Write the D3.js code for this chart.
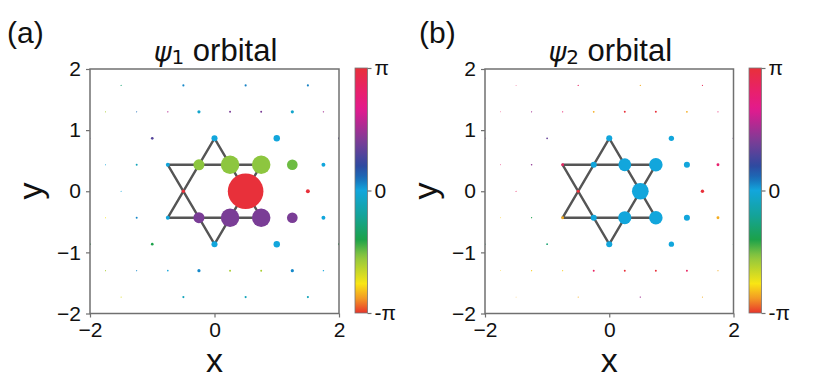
<!DOCTYPE html>
<html>
<head>
<meta charset="utf-8">
<script src="https://cdn.jsdelivr.net/npm/d3@7"></script>
<style>
  body { margin: 0; background: #fff; }
  text { font-family: "Liberation Sans", Arial, sans-serif; fill: #111; }
</style>
</head>
<body>
<svg></svg>
<script>
// kagome sites, row by row from top to bottom
let siteX = [
  -1.5, -0.5, 0.5, 1.5,
  -1.75, -1.25, -0.75, -0.25, 0.25, 0.75, 1.25, 1.75,
  -2, -1, 0, 1, 2,
  -1.75, -1.25, -0.75, -0.25, 0.25, 0.75, 1.25, 1.75,
  -1.5, -0.5, 0.5, 1.5,
  -1.75, -1.25, -0.75, -0.25, 0.25, 0.75, 1.25, 1.75,
  -2, -1, 0, 1, 2,
  -1.75, -1.25, -0.75, -0.25, 0.25, 0.75, 1.25, 1.75,
  -1.5, -0.5, 0.5, 1.5
]
let siteY = [
  1.732, 1.732, 1.732, 1.732,
  1.299, 1.299, 1.299, 1.299, 1.299, 1.299, 1.299, 1.299,
  0.866, 0.866, 0.866, 0.866, 0.866,
  0.433, 0.433, 0.433, 0.433, 0.433, 0.433, 0.433, 0.433,
  0, 0, 0, 0,
  -0.433, -0.433, -0.433, -0.433, -0.433, -0.433, -0.433, -0.433,
  -0.866, -0.866, -0.866, -0.866, -0.866,
  -1.299, -1.299, -1.299, -1.299, -1.299, -1.299, -1.299, -1.299,
  -1.732, -1.732, -1.732, -1.732
]

// |psi| (normalised) and phase (in units of pi) for each site
let amp1 = [
  0.03, 0.06, 0.06, 0.06,
  0.03, 0.03, 0.04, 0.09, 0.055, 0.055, 0.09, 0.04,
  0.03, 0.075, 0.17, 0.18, 0.06,
  0.03, 0.055, 0.11, 0.31, 0.52, 0.52, 0.30, 0.11,
  0.03, 0.095, 1.0, 0.11,
  0.03, 0.055, 0.11, 0.31, 0.52, 0.52, 0.30, 0.11,
  0.05, 0.075, 0.17, 0.18, 0.06,
  0.03, 0.03, 0.045, 0.09, 0.055, 0.055, 0.09, 0.04,
  0.03, 0.06, 0.06, 0.06
]
let phase1 = [
  -0.3, 0.05, 0.06, 0.06,
  -0.6, 0.1, 0.55, -0.05, 0.4, 0.4, -0.05, 0.5,
  0.3, 0.3, 0, 0, 0.3,
  0, -0.1, 0, -0.54, -0.54, -0.54, -0.5, 0,
  0, 1, 1, 1,
  -0.75, 0.05, 0, 0.4, 0.4, 0.4, 0.4, 0,
  -0.4, -0.4, 0, 0, -0.4,
  -0.6, 0.05, 0, 0.05, -0.6, -0.6, 0.05, 0,
  -0.7, -0.1, -0.1, -0.1
]
let amp2 = [
  0.025, 0.035, 0.035, 0.03,
  0.025, 0.035, 0.035, 0.05, 0.055, 0.055, 0.05, 0.03,
  0.04, 0.05, 0.17, 0.15, 0.05,
  0.025, 0.045, 0.08, 0.17, 0.36, 0.38, 0.17, 0.08,
  0.03, 0.085, 0.47, 0.095,
  0.025, 0.035, 0.08, 0.17, 0.37, 0.38, 0.17, 0.08,
  0.04, 0.05, 0.17, 0.15, 0.04,
  0.025, 0.035, 0.03, 0.055, 0.055, 0.055, 0.055, 0.03,
  0.025, 0.03, 0.04, 0.03
]
let phase2 = [
  0.85, 0.85, -0.85, 0.9,
  0.85, 0.5, 0.8, -0.85, 1, 1, -0.85, 0.8,
  0.4, 0.35, 0, 0, 0.35,
  0.8, 0.45, 0.85, 0, 0, 0, 0, 0.8,
  0.85, 1, 0, 1,
  -0.8, -0.4, -0.85, 0, 0, 0, 0, -0.85,
  -0.3, -0.3, 0, 0, -0.3,
  -0.8, -0.8, -0.8, 0.85, 1, 1, 0.85, -0.85,
  -0.85, -0.85, 0.5, -0.85
]

// the star of david: two triangles
let triUp = [[0, 0.866], [-0.75, -0.433], [0.75, -0.433]]
let triDown = [[0, -0.866], [-0.75, 0.433], [0.75, 0.433]]

let xTicks = [-2, 0, 2]
let yTicks = [-2, -1, 0, 1, 2]
let cbTicks = [-1, 0, 1]
let cbLabels = ["-π", "0", "π"]

// phase colormap stops (phase / pi)
let cmapStops = [-1, -0.88, -0.76, -0.54, -0.4, -0.2, 0, 0.1, 0.2, 0.4, 0.66, 0.8, 1]
let cmapColors = ["#e8342c", "#f39a24", "#f9e614", "#8dc63f", "#1ca24a", "#14a39a", "#12a6dc",
                  "#1a6cb8", "#2e4aa0", "#7a3d96", "#e21a8e", "#e8206e", "#e8303a"]

let width = 830
let height = 391

let svg = d3.select("svg").attr("width", width).attr("height", height)

let color = d3.scaleLinear().domain(cmapStops).range(cmapColors).interpolate(d3.interpolateRgb)
let rScale = d3.scaleLinear().domain([0, 1]).range([0, 17.8])

// gradient for the colorbars
let grad = svg.append("defs").append("linearGradient")
    .attr("id", "cmap").attr("x1", 0).attr("y1", 1).attr("x2", 0).attr("y2", 0)
d3.range(0, 1.001, 0.02).forEach(t => {
    grad.append("stop").attr("offset", t).attr("stop-color", color(-1 + 2 * t))
})

let axisColor = "#707070"

let drawPanel = (opts) => {
    let xScale = d3.scaleLinear().domain([-2, 2]).range([opts.left, opts.right])
    let yScale = d3.scaleLinear().domain([-2, 2]).range([313.5, 69])
    let g = svg.append("g")

    g.append("clipPath").attr("id", "clip" + opts.id)
        .append("rect")
        .attr("x", opts.left).attr("y", 69)
        .attr("width", opts.right - opts.left).attr("height", 313.5 - 69)

    let plot = g.append("g").attr("clip-path", "url(#clip" + opts.id + ")")

    // star lines under the dots
    let line = d3.line().x(d => xScale(d[0])).y(d => yScale(d[1])).curve(d3.curveLinearClosed)
    ;[triUp, triDown].forEach(tri => {
        plot.append("path").attr("d", line(tri))
            .attr("fill", "none").attr("stroke", "#555").attr("stroke-width", 2.4)
            .attr("stroke-linejoin", "round")
    })

    plot.selectAll("circle")
        .data(siteX.map((x, i) => i))
        .enter()
        .append("circle")
        .attr("cx", i => xScale(siteX[i]))
        .attr("cy", i => yScale(siteY[i]))
        .attr("r", i => rScale(opts.amp[i]))
        .attr("fill", i => color(opts.phase[i]))

    // axes
    let xAxis = d3.axisBottom(xScale).tickValues(xTicks).tickSize(4).tickPadding(5)
        .tickFormat(d => d < 0 ? "\u2212" + Math.abs(d) : d)
    let yAxis = d3.axisLeft(yScale).tickValues(yTicks).tickSize(4).tickPadding(5)
        .tickFormat(d => d < 0 ? "\u2212" + Math.abs(d) : d)

    let gx = g.append("g").attr("transform", "translate(0," + 313.5 + ")").call(xAxis)
    let gy = g.append("g").attr("transform", "translate(" + opts.left + ",0)").call(yAxis)
    ;[gx, gy].forEach(a => {
        a.select(".domain").remove()
        a.selectAll("line").attr("stroke", axisColor).attr("stroke-width", 1.2)
        a.selectAll("text").attr("font-size", 21).attr("fill", "#111")
            .attr("font-family", "Liberation Sans, Arial, sans-serif")
    })

    g.append("rect")
        .attr("x", opts.left).attr("y", 69)
        .attr("width", opts.right - opts.left).attr("height", 313.5 - 69)
        .attr("fill", "none").attr("stroke", axisColor).attr("stroke-width", 1.5)

    // labels
    g.append("text").attr("x", (opts.left + opts.right) / 2).attr("y", 372)
        .attr("text-anchor", "middle").attr("font-size", 34).text("x")
    g.append("text")
        .attr("transform", "translate(" + (opts.left - 48) + "," + 191 + ") rotate(-90)")
        .attr("text-anchor", "middle").attr("font-size", 34).text("y")

    let title = g.append("text").attr("x", (opts.left + opts.right) / 2 + 1).attr("y", 61)
        .attr("text-anchor", "middle").attr("font-size", 31)
    title.append("tspan").attr("font-family", "DejaVu Sans").attr("font-style", "italic")
        .attr("font-size", 27).text("ψ")
    title.append("tspan").attr("font-family", "DejaVu Sans").attr("font-size", 20).attr("dy", 3).text(opts.sub)
    title.append("tspan").attr("dy", -3).text(" orbital")

    g.append("text").attr("x", opts.tagX).attr("y", 43).attr("font-size", 30).text(opts.tag)

    // colorbar
    let cbScale = d3.scaleLinear().domain([-1, 1]).range([313, 68])
    g.append("rect")
        .attr("x", opts.cbX).attr("y", 68).attr("width", 12.5).attr("height", 245)
        .attr("fill", "url(#cmap)").attr("stroke", "#777").attr("stroke-width", 0.8)
    let cbAxis = d3.axisRight(cbScale).tickValues(cbTicks).tickSize(4).tickPadding(3)
        .tickFormat((d, i) => cbLabels[i])
    let gc = g.append("g").attr("transform", "translate(" + (opts.cbX + 12.5) + ",0)").call(cbAxis)
    gc.select(".domain").remove()
    gc.selectAll("line").attr("stroke", axisColor).attr("stroke-width", 1.2)
    gc.selectAll("text").attr("font-size", 21).attr("fill", "#111")
        .attr("font-family", "Liberation Sans, Arial, sans-serif")
}

drawPanel({ id: "a", left: 90, right: 339, cbX: 355, amp: amp1, phase: phase1, sub: "1", tag: "(a)", tagX: 7 })
drawPanel({ id: "b", left: 485, right: 733.5, cbX: 749, amp: amp2, phase: phase2, sub: "2", tag: "(b)", tagX: 419 })
</script>
</body>
</html>
